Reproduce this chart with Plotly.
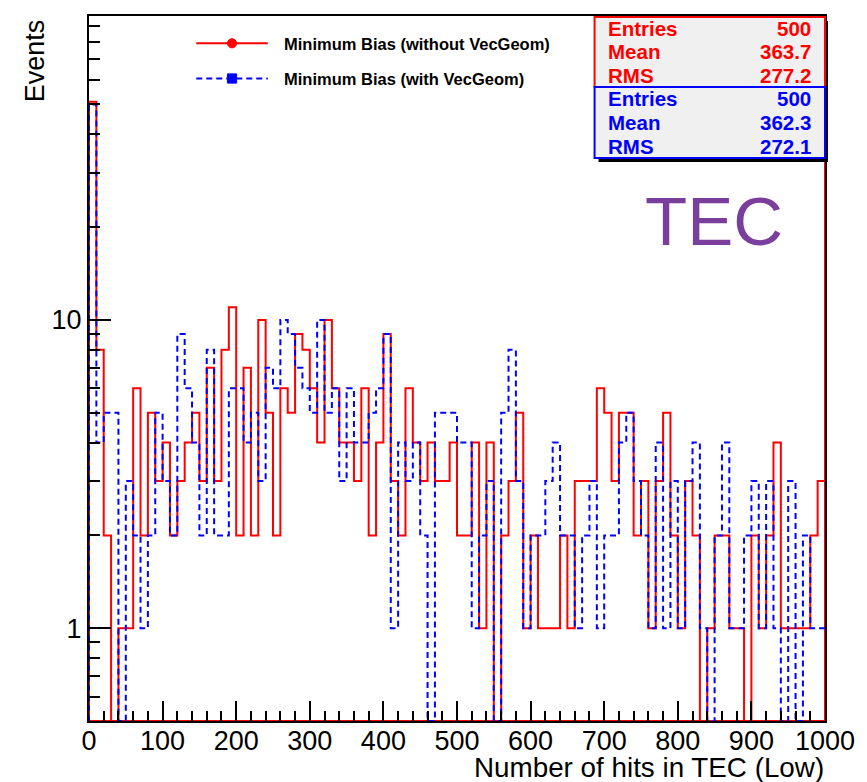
import numpy as np
import plotly.graph_objects as go

# ---- data -------------------------------------------------------------
bin_edges = np.linspace(0, 1000, 101)          # 100 bins, 10 hits wide

red_counts = [
    51, 8, 2, 0, 1, 1, 6, 2, 5, 3, 4, 2, 3, 4, 5, 3, 7, 3, 8, 11, 2, 7, 2, 10, 5,
    2, 6, 5, 9, 8, 6, 4, 10, 6, 4, 4, 3, 6, 2, 4, 9, 3, 2, 6, 4, 3, 4, 3, 3, 4,
    2, 2, 4, 1, 4, 0, 2, 3, 5, 1, 2, 1, 1, 1, 2, 1, 3, 3, 3, 6, 5, 3, 5, 5, 2,
    3, 1, 3, 5, 2, 1, 3, 2, 0, 1, 2, 2, 1, 1, 0, 2, 1, 2, 4, 1, 1, 1, 1, 2, 3,
]
blue_counts = [
    50, 4, 5, 5, 0, 3, 2, 1, 2, 5, 3, 2, 9, 6, 4, 2, 8, 2, 2, 6, 6, 4, 5, 3, 7,
    6, 10, 9, 7, 6, 5, 10, 5, 6, 3, 6, 4, 4, 5, 6, 9, 1, 4, 3, 4, 2, 0, 5, 5, 5,
    4, 4, 1, 2, 3, 0, 5, 8, 3, 1, 2, 2, 3, 4, 2, 2, 1, 2, 3, 1, 2, 2, 4, 5, 3,
    2, 1, 4, 1, 3, 1, 3, 4, 1, 0, 2, 4, 1, 1, 2, 3, 1, 3, 1, 0, 3, 0, 2, 1, 1,
]

series_names = ["Minimum Bias (without VecGeom)", "Minimum Bias (with VecGeom)"]
stat_labels = ["Entries", "Mean", "RMS"]
red_stats = ["500", "363.7", "277.2"]
blue_stats = ["500", "362.3", "272.1"]

x_title = "Number of hits in TEC (Low)"
y_title = "Events"
detector_label = "TEC"

x_range = [0, 1000]
y_range = [0.5, 96.8]
y_major = [1, 10]
y_minor = [0.6, 0.7, 0.8, 0.9, 2, 3, 4, 5, 6, 7, 8, 9,
           20, 30, 40, 50, 60, 70, 80, 90]

RED = "#ff0000"
BLUE = "#0000ff"
PURPLE = "#7a3f9d"
FONT = "Liberation Sans, Arial, Helvetica, sans-serif"

# ---- page geometry (pixels) -------------------------------------------
W, H = 867, 782
L, R, T, B = 89, 830, 16, 721


def fx(px):
    return (px - L) / (R - L)


def fy(py):
    return (B - py) / (B - T)


def step_path(counts, floor):
    """Histogram outline; empty bins drop to the bottom of the frame."""
    xs, ys = [bin_edges[0]], [floor]
    for i, c in enumerate(counts):
        v = c if c > 0 else floor
        xs += [bin_edges[i], bin_edges[i + 1]]
        ys += [v, v]
    return xs, ys


floor = y_range[0]
ceiling = y_range[1] * 10

# first histogram is drawn as a closed contour: it climbs the right edge
# (entries continue beyond 1000) and returns along the bottom of the frame
rx, ry = step_path(red_counts, floor)
rx += [bin_edges[-1], bin_edges[-1], bin_edges[0]]
ry += [ceiling, floor, floor]

bx, by = step_path(blue_counts, floor)

fig = go.Figure()
fig.add_trace(go.Scatter(x=rx, y=ry, mode="lines", showlegend=False,
                         line=dict(color=RED, width=2), hoverinfo="skip"))
fig.add_trace(go.Scatter(x=bx, y=by, mode="lines", showlegend=False,
                         line=dict(color=BLUE, width=2, dash="6px,4px"),
                         hoverinfo="skip"))

shapes = []
annotations = []

# ---- legend -----------------------------------------------------------
legend_rows = [(43.3, RED, "solid", "circle"), (78.5, BLUE, "6px,4px", "square")]
for (yy, col, dash, sym), name in zip(legend_rows, series_names):
    shapes.append(dict(type="line", xref="paper", yref="paper",
                       x0=fx(197), x1=fx(269), y0=fy(yy), y1=fy(yy),
                       line=dict(color=col, width=2, dash=dash)))
    half = 4.6
    shapes.append(dict(type="circle" if sym == "circle" else "rect",
                       xref="paper", yref="paper",
                       x0=fx(233 - half), x1=fx(233 + half),
                       y0=fy(yy + half), y1=fy(yy - half),
                       fillcolor=col, line=dict(color=col, width=1)))
    annotations.append(dict(xref="paper", yref="paper", x=fx(283),
                            y=fy(yy + 0.7),
                            xanchor="left", yanchor="middle", showarrow=False,
                            text=name,
                            font=dict(family=FONT, size=16.5, color="black",
                                      weight="bold")))

# ---- statistics boxes -------------------------------------------------
boxes = [(17, 87, RED, red_stats), (87, 158, BLUE, blue_stats)]
for top, bot, col, vals in boxes:
    shapes.append(dict(type="rect", xref="paper", yref="paper",
                       x0=fx(602), x1=fx(833), y0=fy(bot + 4), y1=fy(top + 4),
                       fillcolor="black", line=dict(width=0)))
for top, bot, col, vals in boxes:
    shapes.append(dict(type="rect", xref="paper", yref="paper",
                       x0=fx(598), x1=fx(830), y0=fy(bot), y1=fy(top),
                       fillcolor="#f0f0f0", line=dict(color=col, width=2)))
    row_h = (bot - top) / 3
    for k, (lab, val) in enumerate(zip(stat_labels, vals)):
        yc = top + row_h * (k + 0.5)
        for txt, xpos, anchor in [(lab, 610, "left"), (val, 818, "right")]:
            annotations.append(dict(xref="paper", yref="paper",
                                    x=fx(xpos), y=fy(yc), xanchor=anchor,
                                    yanchor="middle", showarrow=False, text=txt,
                                    font=dict(family=FONT, size=20.5, color=col,
                                              weight="bold")))

# ---- titles and label -------------------------------------------------
annotations.append(dict(xref="paper", yref="paper", x=fx(718), y=fy(222),
                        xanchor="center", yanchor="middle", showarrow=False,
                        text=detector_label,
                        font=dict(family=FONT, size=69, color=PURPLE)))
annotations.append(dict(xref="paper", yref="paper", x=fx(831), y=fy(767),
                        xanchor="right", yanchor="middle", showarrow=False,
                        text=x_title,
                        font=dict(family=FONT, size=27.8, color="black")))
annotations.append(dict(xref="paper", yref="paper", x=fx(35), y=fy(61),
                        xanchor="center", yanchor="middle", showarrow=False,
                        textangle=-90, text=y_title,
                        font=dict(family=FONT, size=27, color="black")))

fig.update_layout(
    width=W, height=H,
    margin=dict(l=L, r=W - R, t=T, b=H - B, pad=0),
    paper_bgcolor="white", plot_bgcolor="white",
    showlegend=False,
    shapes=shapes, annotations=annotations,
    font=dict(family=FONT, color="black"),
)
fig.update_xaxes(
    range=x_range, showgrid=False, zeroline=False,
    showline=True, linecolor="black", linewidth=2, mirror=True,
    ticks="inside", ticklen=20, tickwidth=1.5, tickcolor="black",
    tick0=0, dtick=100, ticklabelstandoff=-5,
    tickfont=dict(family=FONT, size=27, color="black"),
    minor=dict(ticks="inside", ticklen=10, tickwidth=1.5, tickcolor="black",
               tick0=0, dtick=20, showgrid=False),
)
fig.update_yaxes(
    type="log", range=[np.log10(y_range[0]), np.log10(y_range[1])],
    showgrid=False, zeroline=False,
    showline=True, linecolor="black", linewidth=2, mirror=True,
    ticks="inside", ticklen=22, tickwidth=1.5, tickcolor="black",
    tickmode="array", tickvals=y_major, ticktext=[str(v) for v in y_major],
    tickfont=dict(family=FONT, size=27, color="black"),
    minor=dict(ticks="inside", ticklen=11, tickwidth=1.5, tickcolor="black",
               tickmode="array", tickvals=y_minor, showgrid=False),
)

fig.write_html("out.html")
